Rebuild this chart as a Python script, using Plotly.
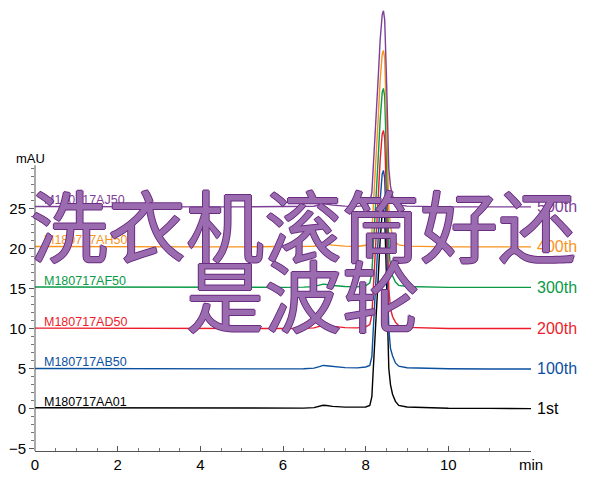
import plotly.graph_objects as go

# ---- data ----
time_min = [0, 1, 2, 3, 4, 5, 6, 6.5, 6.75, 6.88, 6.97, 7.05, 7.2, 7.5, 7.8,
            8.0, 8.1, 8.15, 8.18, 8.22, 8.26, 8.3, 8.35, 8.4, 8.43, 8.46, 8.5,
            8.53, 8.56, 8.6, 8.65, 8.72, 8.8, 9.0, 9.5, 10, 11, 12]

inj_1st = [0.1, 0.08, 0.06, 0.05, 0.04, 0.04, 0.05, 0.06, 0.12, 0.3, 0.42, 0.38, 0.28, 0.18, 0.14,
           0.2, 0.4, 1.5, 4.5, 8, 11, 16, 21, 24.5, 25, 24, 17,
           9, 5, 3, 1.8, 0.9, 0.4, 0.2, 0.1, 0.05, 0.02, 0.0]
inj_100th = [5.0, 4.98, 4.96, 4.95, 4.95, 4.95, 4.96, 4.98, 5.05, 5.25, 5.4, 5.35, 5.25, 5.12, 5.08,
             5.2, 5.4, 6.5, 9.5, 13, 16, 21, 26, 29.3, 29.75, 28.8, 22,
             14, 10, 7.5, 6.6, 5.7, 5.3, 5.1, 5.0, 4.97, 4.95, 4.95]
inj_200th = [10.05, 10.03, 10.02, 10.0, 10.0, 10.0, 10.0, 10.02, 10.08, 10.28, 10.4, 10.36, 10.25, 10.12, 10.08,
             10.2, 10.5, 11.7, 14.5, 18, 21, 26, 31, 34.3, 34.75, 33.8, 27,
             19, 15, 12.5, 11.5, 10.8, 10.35, 10.15, 10.05, 10.0, 10.0, 10.0]
inj_300th = [15.2, 15.18, 15.15, 15.15, 15.15, 15.15, 15.15, 15.17, 15.24, 15.42, 15.55, 15.5, 15.38, 15.26, 15.22,
             15.35, 15.7, 17, 19.5, 23, 26.5, 31, 36, 39.5, 40, 39, 32,
             24, 20, 17.8, 16.6, 15.8, 15.4, 15.25, 15.2, 15.15, 15.15, 15.15]
inj_400th = [20.25, 20.22, 20.2, 20.2, 20.2, 20.2, 20.2, 20.22, 20.28, 20.47, 20.6, 20.55, 20.42, 20.3, 20.26,
             20.4, 20.75, 22, 24.5, 28, 31.5, 36, 41, 44.3, 44.75, 43.8, 37,
             29, 25, 22.8, 21.6, 20.8, 20.45, 20.3, 20.25, 20.2, 20.2, 20.2]
inj_500th = [25.25, 25.22, 25.2, 25.2, 25.2, 25.2, 25.2, 25.22, 25.28, 25.47, 25.6, 25.55, 25.42, 25.3, 25.26,
             25.4, 25.75, 27, 29.5, 33, 36.5, 41, 46, 49.2, 49.7, 48.6, 42,
             34, 30, 27.8, 26.6, 25.8, 25.45, 25.3, 25.25, 25.2, 25.2, 25.2]

series = [
    ("M180717AA01", "1st", inj_1st, "#000000"),
    ("M180717AB50", "100th", inj_100th, "#0b4f9f"),
    ("M180717AD50", "200th", inj_200th, "#ec1c2b"),
    ("M180717AF50", "300th", inj_300th, "#0a9a47"),
    ("M180717AH50", "400th", inj_400th, "#f7941d"),
    ("M180717AJ50", "500th", inj_500th, "#7e3f98"),
]
baselines = [0.0, 4.95, 10.0, 15.15, 20.2, 25.2]

x_ticks = [0, 2, 4, 6, 8, 10, 12]
x_ticktext = ["0", "2", "4", "6", "8", "10", "min"]
y_ticks = [-5, 0, 5, 10, 15, 20, 25]

fig = go.Figure()
for (name, lab, vals, col) in series:
    fig.add_trace(go.Scatter(x=time_min, y=vals, mode="lines",
                             line=dict(color=col, width=1.4),
                             name=name, showlegend=False, hoverinfo="skip"))

for (name, lab, vals, col), b in zip(series, baselines):
    fig.add_annotation(x=0.17, y=b + 0.85, text=name, showarrow=False,
                       xanchor="left", yanchor="middle",
                       font=dict(family="Arial, Liberation Sans", size=12.5, color=col))
    fig.add_annotation(xref="paper", x=1.008, y=b, text=lab, showarrow=False,
                       xanchor="left", yanchor="middle",
                       font=dict(family="Arial, Liberation Sans", size=16, color=col))

fig.add_annotation(xref="paper", x=-0.01, y=31.3, text="mAU", showarrow=False,
                   xanchor="center", yanchor="middle",
                   font=dict(family="Arial, Liberation Sans", size=13, color="#000"))

# y axis line only up to ~30 mAU
fig.add_shape(type="line", xref="paper", x0=0, x1=0, yref="y", y0=-5.3, y1=30.4,
              line=dict(color="#555", width=1))

# overlay title text
outline = "#6a2d80"
shadow = ", ".join(f"{dx}px {dy}px 0 {outline}" for dx, dy in
                   [(1, 0), (-1, 0), (0, 1), (0, -1)])
title_font = dict(family="Noto Sans CJK SC", size=78, color="#9b6bb0", shadow=shadow)
fig.add_annotation(xref="paper", x=0.54, y=23.2, text="洗衣机滚筒好还",
                   showarrow=False, xanchor="center", yanchor="middle", font=title_font)
fig.add_annotation(xref="paper", x=0.54, y=14.5, text="是波轮",
                   showarrow=False, xanchor="center", yanchor="middle", font=title_font)

# page body has an 8px margin, so the figure is sized/placed to compensate
fig.update_layout(
    width=592, height=496,
    margin=dict(l=27, r=69, t=0, b=53),
    paper_bgcolor="white", plot_bgcolor="white",
    font=dict(family="Arial, Liberation Sans", color="#000"),
    xaxis=dict(range=[0, 12], tickvals=x_ticks, ticktext=x_ticktext, automargin=False,
               ticks="inside", ticklen=5, tickcolor="#555", showgrid=False,
               zeroline=False, showline=True, linecolor="#555", linewidth=1,
               tickfont=dict(size=15),
               minor=dict(tickvals=[i * 0.5 for i in range(25)], ticks="inside",
                          ticklen=3, tickcolor="#777")),
    yaxis=dict(range=[-5.3, 50.05], tickvals=y_ticks, ticks="outside", ticklen=5,
               automargin=False,
               tickcolor="#555", showgrid=False, zeroline=False, showline=False,
               tickfont=dict(size=15),
               minor=dict(tickvals=list(range(-5, 31)), ticks="outside",
                          ticklen=3, tickcolor="#777")),
)

fig.write_html("out.html")
